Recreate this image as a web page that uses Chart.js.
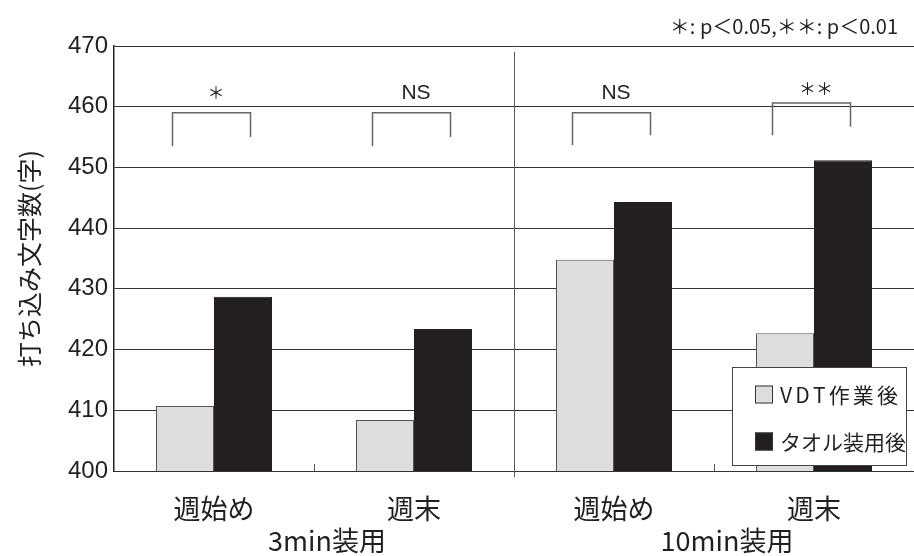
<!DOCTYPE html>
<html>
<head>
<meta charset="utf-8">
<script src="https://cdn.jsdelivr.net/npm/chart.js@4/dist/chart.umd.min.js"></script>
<style>
  html, body { margin: 0; padding: 0; background: #fff; }
  #wrap { width: 914px; height: 556px; position: relative; }
</style>
</head>
<body>
<div id="wrap"><canvas id="chartTyping" width="914" height="556"></canvas></div>
<script>
const categories = ['週始め', '週末', '週始め', '週末'];
const groups = ['3min装用', '10min装用'];
const vdtValues = [410.7, 408.4, 434.8, 422.7];
const towelValues = [428.7, 423.4, 444.3, 451.2];
const seriesNames = ['VDT作業後', 'タオル装用後'];
const yTicks = [400, 410, 420, 430, 440, 450, 460, 470];
const sigLabels = ['＊', 'NS', 'NS', '＊＊'];
const sigNote = '＊: p＜0.05,＊＊: p＜0.01';

const jp = '"Noto Sans CJK JP", "Noto Sans", sans-serif';
const num = '"Liberation Sans", Arial, sans-serif';

// bracket heights (value units)
const brackets = [
    { top: 459.0, left: 453.5, right: 455.0, text: 462.3 },
    { top: 459.0, left: 453.5, right: 455.0, text: 462.3 },
    { top: 459.0, left: 453.7, right: 455.3, text: 462.3 },
    { top: 460.6, left: 455.3, right: 456.7, text: 463.0 }
];

// draw text stretched to a given width with letter spacing
function spacedText(ctx, text, x0, y0, width) {
    const chars = Array.from(text);
    const natural = chars.reduce((s, ch) => s + ctx.measureText(ch).width, 0);
    const gap = chars.length > 1 ? Math.max(0, (width - natural) / (chars.length - 1)) : 0;
    let cx = x0;
    chars.forEach(ch => {
        ctx.fillText(ch, cx, y0);
        cx += ctx.measureText(ch).width + gap;
    });
}

const extras = {
    id: 'extras',
    beforeDatasetsDraw(chart) {
        const { ctx, chartArea, scales: { x, y } } = chart;
        const step = x.getPixelForValue(1) - x.getPixelForValue(0);
        ctx.save();
        // divider between the two groups
        ctx.strokeStyle = '#555';
        ctx.lineWidth = 1;
        const mid = Math.round((x.getPixelForValue(1) + x.getPixelForValue(2)) / 2) + 0.5;
        ctx.beginPath();
        ctx.moveTo(mid, chartArea.top + 6);
        ctx.lineTo(mid, chartArea.bottom + 6);
        ctx.stroke();
        // small ticks between categories of a group
        [0, 2].forEach(i => {
            const px = Math.round(x.getPixelForValue(i) + step / 2) + 0.5;
            ctx.beginPath();
            ctx.moveTo(px, chartArea.bottom - 7);
            ctx.lineTo(px, chartArea.bottom);
            ctx.stroke();
        });
        ctx.restore();
    },
    afterDraw(chart) {
        const { ctx, chartArea, scales: { x, y } } = chart;
        const step = x.getPixelForValue(1) - x.getPixelForValue(0);
        ctx.save();
        // significance brackets
        ctx.strokeStyle = '#666';
        ctx.lineWidth = 1.5;
        ctx.fillStyle = '#231f20';
        ctx.textAlign = 'center';
        ctx.textBaseline = 'middle';
        brackets.forEach((b, i) => {
            const c = x.getPixelForValue(i);
            const xl = Math.round(c - 0.21 * step) + 0.5;
            const xr = Math.round(c + 0.18 * step) + 0.5;
            ctx.beginPath();
            ctx.moveTo(xl, y.getPixelForValue(b.left));
            ctx.lineTo(xl, y.getPixelForValue(b.top));
            ctx.lineTo(xr, y.getPixelForValue(b.top));
            ctx.lineTo(xr, y.getPixelForValue(b.right));
            ctx.stroke();
            const isStar = sigLabels[i].startsWith('＊');
            ctx.font = isStar ? '17px ' + jp : '21px ' + num;
            ctx.fillText(sigLabels[i], c + 2, y.getPixelForValue(b.text));
        });
        // p-value note
        ctx.font = '20px ' + jp;
        ctx.textAlign = 'right';
        ctx.fillText(sigNote, 898, 26);
        // group labels
        ctx.font = '27px ' + jp;
        ctx.textAlign = 'center';
        groups.forEach((g, gi) => {
            const cx = (x.getPixelForValue(gi * 2) + x.getPixelForValue(gi * 2 + 1)) / 2;
            ctx.fillText(g, cx + 13, 541);
        });
        // legend box
        const lx = 732.5, ly = 367.5, lw = 174, lh = 98;
        ctx.fillStyle = '#fff';
        ctx.fillRect(lx, ly, lw, lh);
        ctx.strokeStyle = '#444';
        ctx.lineWidth = 1;
        ctx.strokeRect(lx, ly, lw, lh);
        ctx.font = '21px ' + jp;
        ctx.textAlign = 'left';
        chart.data.datasets.forEach((ds, i) => {
            const yy = ly + 27 + i * 47;
            ctx.fillStyle = ds.backgroundColor;
            ctx.fillRect(755, yy - 9, 18, 18);
            ctx.strokeStyle = '#333';
            ctx.strokeRect(755.5, yy - 8.5, 17, 17);
            ctx.fillStyle = '#231f20';
            spacedText(ctx, ds.label, 780, yy + 1, 118);
        });
        ctx.restore();
    }
};

new Chart(document.getElementById('chartTyping'), {
    type: 'bar',
    data: {
        labels: categories,
        datasets: [
            {
                label: seriesNames[0],
                data: vdtValues,
                backgroundColor: '#dcdddf',
                borderColor: '#555',
                borderWidth: 1
            },
            {
                label: seriesNames[1],
                data: towelValues,
                backgroundColor: '#231f20',
                borderColor: '#231f20',
                borderWidth: 1
            }
        ]
    },
    options: {
        responsive: false,
        animation: false,
        devicePixelRatio: 1,
        layout: { padding: { top: 46, right: 0, left: 0, bottom: 0 } },
        datasets: { bar: { categoryPercentage: 0.58, barPercentage: 1 } },
        plugins: { legend: { display: false }, tooltip: { enabled: false } },
        scales: {
            x: {
                grid: { display: false, drawTicks: false },
                border: { color: '#333', width: 1 },
                ticks: { color: '#231f20', font: { family: jp, size: 27 }, padding: 22, autoSkip: false, maxRotation: 0 },
                afterFit(scale) { scale.height = 85; }
            },
            y: {
                min: 400,
                max: 470,
                afterBuildTicks(scale) { scale.ticks = yTicks.map(v => ({ value: v })); },
                grid: { color: '#333', lineWidth: 1, drawTicks: false },
                border: { color: '#222', width: 1.5 },
                ticks: { color: '#231f20', font: { family: num, size: 24 }, padding: 6 },
                title: {
                    display: true,
                    text: '打ち込み文字数(字)',
                    color: '#231f20',
                    font: { family: jp, size: 25 },
                    padding: { top: 14, bottom: 0 }
                },
                afterFit(scale) { scale.width = 114; }
            }
        }
    },
    plugins: [extras]
});
</script>
</body>
</html>
